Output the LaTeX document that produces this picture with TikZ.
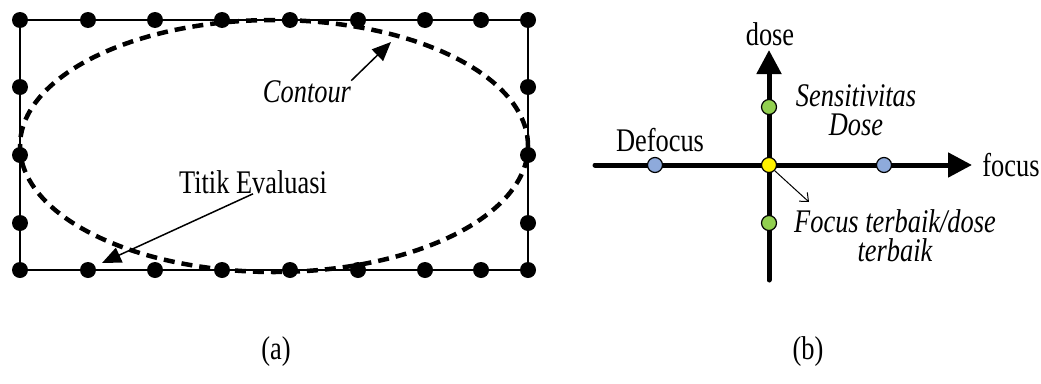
\documentclass[tikz,border=0pt]{standalone}
\usepackage{fontspec}
\setmainfont{Liberation Serif}[FakeStretch=0.8]
\usetikzlibrary{arrows.meta}

\definecolor{defblue}{RGB}{142,170,219}
\definecolor{dosegreen}{RGB}{146,208,80}

\begin{document}
\begin{tikzpicture}[x=1pt, y=-1pt,
    lbl/.style={inner sep=0pt, align=center, font=\fontsize{33}{29}\selectfont},
    ilbl/.style={lbl, font=\fontsize{33}{29}\selectfont\itshape},
    evpt/.style={circle, fill=black, minimum size=16pt, inner sep=0pt},
    axpt/.style={circle, draw=black, line width=1.2pt, minimum size=15pt, inner sep=0pt},
    axis/.style={line width=5pt, line cap=round, -{Triangle[length=24pt,width=24pt]}}]
  \useasboundingbox (0,0) rectangle (1041,383);

  % (a) evaluation points round the contour
  \draw[line width=2pt] (20,20) rectangle (528,270);
  \draw[line width=4.5pt, dash pattern=on 11pt off 7pt] (274,146) ellipse [x radius=254pt, y radius=126pt];
  \foreach \x [count=\i] in {20,88,155,222,290,358,425,481,528} {
    \node[evpt] (t\i) at (\x,20) {};
    \node[evpt] (b\i) at (\x,270) {};
  }
  \foreach \y [count=\i] in {87,155,223} {
    \node[evpt] (l\i) at (20,\y) {};
    \node[evpt] (r\i) at (528,\y) {};
  }
  \node[ilbl] (contour) at (307,92) {Contour};
  \coordinate (contourpt) at (391,42);
  \draw[line width=1.5pt, -{Triangle[length=19pt,width=16pt]}] (contour.north east) -- (contourpt);
  \node[lbl] (titik) at (253,182) {Titik Evaluasi};
  \coordinate (titikpt) at (102,263);
  \draw[line width=1.5pt, -{Triangle[length=19pt,width=16pt]}] (titik.south) -- (titikpt);
  \node[lbl] (capa) at (276,352) {(a)};

  % (b) focus / dose axes
  \coordinate (fleft) at (595,165);
  \coordinate (fright) at (972,165);
  \coordinate (dbottom) at (769,280);
  \coordinate (dtop) at (769,50);
  \draw[axis] (fleft) -- (fright);
  \draw[axis] (dbottom) -- (dtop);
  \node[axpt, fill=defblue] (def1) at (655,165) {};
  \node[axpt, fill=defblue] (def2) at (884,165) {};
  \node[axpt, fill=dosegreen] (sens1) at (769,107) {};
  \node[axpt, fill=dosegreen] (sens2) at (769,223) {};
  \node[axpt, fill=yellow] (best) at (769,165) {};
  \coordinate (bestpt) at (809,202);
  \draw[line width=1pt, -{Straight Barb[length=7pt,width=12pt]}] (best.south east) -- (bestpt);

  \node[lbl] (focus) at (1011,165) {focus};
  \node[lbl] (dose) at (770,34) {dose};
  \node[lbl] (defocus) at (660,140) {Defocus};
  \node[ilbl] (sens) at (856,110) {Sensitivitas\\Dose};
  \node[ilbl] (bestlbl) at (895,236) {Focus terbaik/dose\\terbaik};
  \node[lbl] (capb) at (808,352) {(b)};
\end{tikzpicture}
\end{document}
